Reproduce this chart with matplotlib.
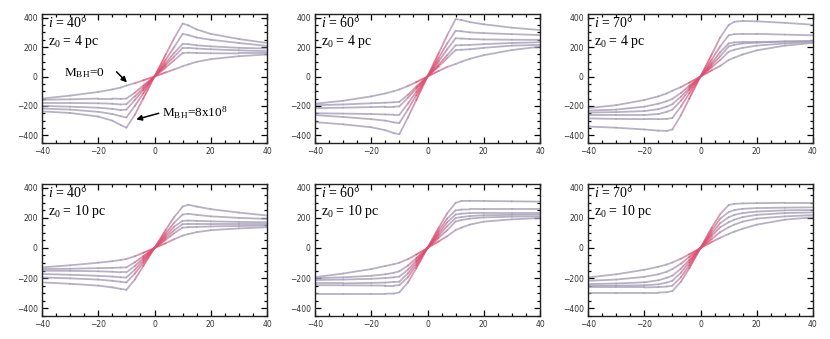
import numpy as np
import matplotlib
matplotlib.use("Agg")
import matplotlib.pyplot as plt
from matplotlib.collections import LineCollection
from matplotlib.colors import LinearSegmentedColormap
from matplotlib.ticker import MultipleLocator

plt.rcParams['mathtext.fontset'] = 'custom'
plt.rcParams['mathtext.rm'] = 'Liberation Serif'
plt.rcParams['mathtext.it'] = 'Liberation Serif:italic'

# ---------------- data ----------------
x_pos = [-40, -30, -20, -15, -12, -10, -7, -4, 0, 4, 7, 10, 12, 15, 20, 30, 40]

incl_labels = ["40", "60", "70"]
z0_labels = ["4", "10"]

# panel (i=40, z0=4)
p40_4 = [
    [-150, -130, -105, -88, -75, -62, -45, -26, 0, 28, 48, 70, 82, 100, 118, 138, 150],
    [-158, -155, -150, -150, -152, -150, -110, -62, 0, 62, 110, 160, 162, 160, 158, 157, 157],
    [-180, -180, -182, -185, -190, -188, -135, -78, 0, 78, 135, 195, 195, 190, 185, 178, 172],
    [-200, -205, -212, -220, -228, -225, -160, -92, 0, 92, 160, 222, 220, 212, 205, 195, 190],
    [-218, -225, -240, -255, -270, -278, -200, -115, 0, 115, 200, 290, 282, 265, 250, 228, 208],
    [-237, -248, -272, -300, -330, -348, -260, -150, 0, 150, 260, 360, 348, 320, 290, 255, 228],
]
# panel (i=60, z0=4)
p60_4 = [
    [-185, -165, -135, -115, -100, -88, -65, -38, 0, 38, 65, 85, 100, 120, 145, 180, 203],
    [-195, -190, -182, -178, -175, -172, -125, -70, 0, 70, 125, 180, 182, 185, 195, 210, 215],
    [-215, -212, -208, -205, -205, -203, -145, -82, 0, 82, 145, 212, 213, 215, 220, 228, 233],
    [-250, -252, -255, -258, -260, -260, -185, -105, 0, 105, 185, 260, 258, 255, 252, 250, 249],
    [-262, -275, -290, -300, -312, -316, -225, -128, 0, 128, 225, 310, 308, 300, 295, 288, 282],
    [-310, -325, -345, -365, -385, -392, -280, -160, 0, 160, 280, 390, 385, 370, 355, 332, 316],
]
# panel (i=70, z0=4)
p70_4 = [
    [-215, -195, -160, -135, -115, -97, -72, -42, 0, 42, 72, 112, 128, 150, 178, 210, 228],
    [-232, -225, -205, -185, -168, -152, -112, -64, 0, 64, 112, 168, 182, 195, 210, 225, 235],
    [-245, -242, -235, -222, -205, -188, -138, -78, 0, 78, 138, 205, 215, 225, 230, 238, 242],
    [-262, -262, -262, -255, -240, -225, -165, -92, 0, 92, 165, 225, 232, 235, 235, 238, 240],
    [-285, -288, -290, -290, -288, -282, -205, -115, 0, 115, 205, 280, 288, 290, 290, 285, 280],
    [-340, -348, -360, -368, -370, -360, -265, -150, 0, 150, 265, 350, 372, 378, 375, 365, 352],
]
# panel (i=40, z0=10)
p40_10 = [
    [-129, -115, -98, -88, -80, -73, -55, -32, 0, 32, 58, 82, 92, 105, 118, 130, 138],
    [-140, -138, -134, -132, -130, -129, -95, -55, 0, 55, 98, 135, 138, 140, 143, 146, 149],
    [-151, -152, -155, -158, -162, -162, -120, -68, 0, 68, 118, 158, 160, 160, 160, 160, 160],
    [-173, -178, -185, -190, -195, -196, -145, -82, 0, 82, 142, 180, 182, 180, 177, 173, 171],
    [-196, -202, -210, -218, -225, -229, -170, -98, 0, 98, 168, 222, 227, 220, 210, 200, 193],
    [-229, -238, -250, -262, -272, -278, -210, -120, 0, 120, 205, 275, 287, 275, 258, 235, 216],
]
# panel (i=60, z0=10)
p60_10 = [
    [-194, -170, -140, -120, -108, -98, -75, -44, 0, 44, 78, 119, 135, 155, 175, 190, 199],
    [-201, -195, -185, -175, -165, -155, -118, -68, 0, 68, 118, 176, 185, 195, 203, 208, 210],
    [-213, -210, -205, -200, -195, -190, -145, -84, 0, 84, 145, 199, 205, 212, 217, 220, 222],
    [-235, -235, -232, -230, -226, -224, -170, -98, 0, 98, 170, 222, 228, 232, 233, 233, 233],
    [-247, -248, -249, -250, -250, -247, -195, -115, 0, 115, 195, 250, 255, 256, 256, 256, 256],
    [-304, -304, -304, -304, -303, -295, -230, -135, 0, 135, 230, 300, 312, 313, 312, 310, 308],
]
# panel (i=70, z0=10)
p70_10 = [
    [-196, -175, -145, -125, -110, -96, -72, -42, 0, 40, 68, 93, 108, 128, 155, 188, 204],
    [-218, -210, -192, -175, -158, -140, -105, -60, 0, 60, 105, 138, 155, 175, 195, 210, 218],
    [-240, -236, -228, -215, -198, -184, -138, -80, 0, 80, 138, 171, 188, 205, 220, 232, 236],
    [-251, -250, -248, -242, -230, -218, -165, -96, 0, 96, 165, 204, 220, 232, 242, 250, 252],
    [-262, -262, -262, -260, -256, -251, -195, -115, 0, 115, 195, 238, 252, 260, 265, 268, 270],
    [-296, -296, -296, -296, -294, -286, -225, -135, 0, 135, 225, 285, 293, 296, 298, 300, 300],
]

panels = [[p40_4, p60_4, p70_4], [p40_10, p60_10, p70_10]]

x_ticks = [-40, -20, 0, 20, 40]
y_ticks = [-400, -200, 0, 200, 400]

# ---------------- figure ----------------
W, H = 830, 339
fig = plt.figure(figsize=(W / 100, H / 100), dpi=100)

col_left = [42, 315, 588]
col_w = 225
row_top = [14, 184]
row_h = [129, 132]

cmap = LinearSegmentedColormap.from_list("rc", ["#e0325c", "#d27692", "#aaa2c0", "#a59eb6"])

xa = np.array(x_pos, dtype=float)
for r in range(2):
    for c in range(3):
        l = col_left[c] / W
        b = (H - row_top[r] - row_h[r]) / H
        ax = fig.add_axes([l, b, col_w / W, row_h[r] / H])
        ax.set_xlim(-40, 40)
        ax.set_ylim(-452, 425)
        for curve in panels[r][c]:
            ya = np.array(curve, dtype=float)
            pts = np.column_stack([xa, ya]).reshape(-1, 1, 2)
            segs = np.concatenate([pts[:-1], pts[1:]], axis=1)
            mid = np.abs(0.5 * (xa[:-1] + xa[1:]))
            t = np.clip(mid / 14.0, 0, 1)
            lc = LineCollection(segs, colors=cmap(t), linewidths=1.3, alpha=0.8,
                                capstyle='round', joinstyle='round')
            ax.add_collection(lc)
        ax.set_xticks(x_ticks)
        ax.set_yticks(y_ticks)
        ax.xaxis.set_minor_locator(MultipleLocator(5))
        ax.yaxis.set_minor_locator(MultipleLocator(50))
        ax.tick_params(which='both', direction='in', top=True, right=True,
                       labelsize=5.5, labelcolor='#333333', pad=3, width=0.9)
        ax.tick_params(which='major', length=4)
        ax.tick_params(which='minor', length=2.2)
        for s in ax.spines.values():
            s.set_linewidth(1.0)
            s.set_color('#222222')
        ax.text(0.025, 0.93, r"$i$ = " + incl_labels[c] + "°", transform=ax.transAxes,
                fontsize=10, family='Liberation Serif', va='center', ha='left')
        ax.text(0.025, 0.79, r"z$_0$ = " + z0_labels[r] + " pc", transform=ax.transAxes,
                fontsize=10, family='Liberation Serif', va='center', ha='left')
        if r == 0 and c == 0:
            ax.text(-32, 22, r"M$_{\rm BH}$=0", fontsize=9.5, family='Liberation Serif',
                    va='center', ha='left')
            ax.annotate("", xy=(-9.8, -40), xytext=(-13.5, 32),
                        arrowprops=dict(arrowstyle='-|>', color='black', lw=1.1,
                                        mutation_scale=8, shrinkA=0, shrinkB=0))
            ax.text(2.8, -245, r"M$_{\rm BH}$=8x10$^8$", fontsize=9.5, family='Liberation Serif',
                    va='center', ha='left')
            ax.annotate("", xy=(-6.5, -292), xytext=(1.5, -250),
                        arrowprops=dict(arrowstyle='-|>', color='black', lw=1.1,
                                        mutation_scale=8, shrinkA=0, shrinkB=0))

fig.savefig("out.png", dpi=100)
